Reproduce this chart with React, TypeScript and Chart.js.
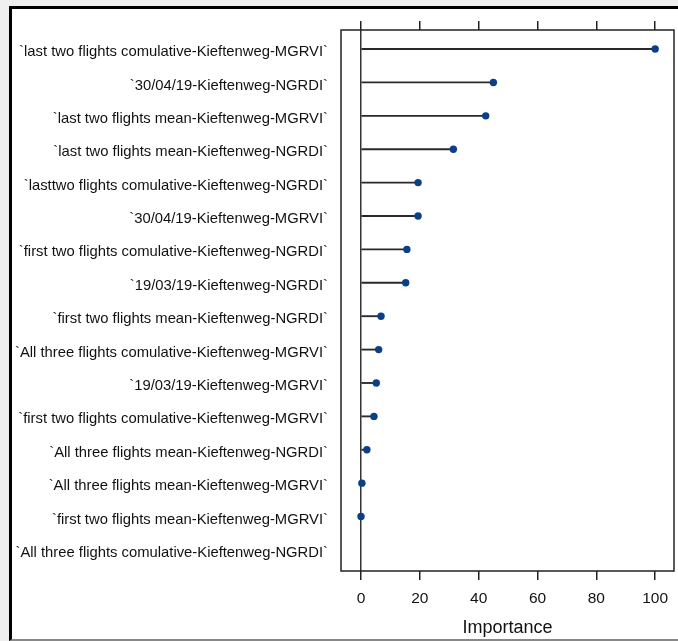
import React, { useEffect, useRef } from "react";
import { Chart, registerables } from "chart.js";

Chart.register(...registerables);

// Predictor names, top to bottom
const categories = [
  "`last two flights comulative-Kieftenweg-MGRVI`",
  "`30/04/19-Kieftenweg-NGRDI`",
  "`last two flights mean-Kieftenweg-MGRVI`",
  "`last two flights mean-Kieftenweg-NGRDI`",
  "`lasttwo flights comulative-Kieftenweg-NGRDI`",
  "`30/04/19-Kieftenweg-MGRVI`",
  "`first two flights comulative-Kieftenweg-NGRDI`",
  "`19/03/19-Kieftenweg-NGRDI`",
  "`first two flights mean-Kieftenweg-NGRDI`",
  "`All three flights comulative-Kieftenweg-MGRVI`",
  "`19/03/19-Kieftenweg-MGRVI`",
  "`first two flights comulative-Kieftenweg-MGRVI`",
  "`All three flights mean-Kieftenweg-NGRDI`",
  "`All three flights mean-Kieftenweg-MGRVI`",
  "`first two flights mean-Kieftenweg-MGRVI`",
  "`All three flights comulative-Kieftenweg-NGRDI`",
];

// Variable importance (scaled 0-100)
const importance: (number | null)[] = [
  100, 45.0, 42.4, 31.4, 19.4, 19.4, 15.6, 15.2, 6.8, 6.0, 5.2, 4.4, 2.0, 0.3, 0, null,
];

const xTicks = [0, 20, 40, 60, 80, 100];
const xTitle = "Importance";

const FONT = "'Liberation Sans', Arial, Helvetica, sans-serif";
const X_MIN = -6.8;
const X_MAX = 106.4;

const panelBox = {
  id: "panelBox",
  afterDatasetsDraw(chart: any) {
    const { ctx, chartArea } = chart;
    ctx.save();
    ctx.strokeStyle = "#222";
    ctx.lineWidth = 1.5;
    ctx.strokeRect(chartArea.left, chartArea.top, chartArea.right - chartArea.left, chartArea.bottom - chartArea.top);
    ctx.restore();
  },
};

export default function App() {
  const canvasRef = useRef<HTMLCanvasElement | null>(null);

  useEffect(() => {
    const canvas = canvasRef.current;
    if (!canvas) return;

    const points = importance
      .map((v, i) => (v === null ? null : { x: v, y: i }))
      .filter((p) => p !== null) as { x: number; y: number }[];

    const setXTicks = (scale: any) => {
      scale.ticks = xTicks.map((v) => ({ value: v }));
    };

    const chart = new Chart(canvas, {
      type: "bar",
      data: {
        datasets: [
          {
            type: "scatter" as any,
            data: points,
            xAxisID: "x",
            yAxisID: "y",
            showLine: false,
            pointStyle: "circle",
            pointRadius: 3.7,
            pointBackgroundColor: "#0b3f88",
            pointBorderColor: "#0b3f88",
            pointBorderWidth: 0,
            order: 0,
          } as any,
          {
            type: "bar",
            data: points,
            xAxisID: "x",
            yAxisID: "y",
            backgroundColor: "#2a2a2a",
            barThickness: 1.2,
            order: 1,
          } as any,
        ],
      },
      options: {
        animation: false,
        responsive: false,
        indexAxis: "y",
        layout: { padding: { left: 0, right: 2, top: 0, bottom: 0 } },
        plugins: {
          legend: { display: false },
          tooltip: { enabled: false },
        },
        scales: {
          x: {
            type: "linear",
            position: "bottom",
            min: X_MIN,
            max: X_MAX,
            offset: false,
            afterBuildTicks: setXTicks,
            afterFit: (scale: any) => {
              scale.height = 70;
            },
            border: { display: false },
            grid: {
              drawOnChartArea: true,
              drawTicks: true,
              tickLength: 9,
              lineWidth: 1.5,
              tickColor: "#222",
              color: (c: any) => (c.tick && c.tick.value === 0 ? "#333" : "rgba(0,0,0,0)"),
            },
            ticks: {
              color: "#111",
              padding: 9,
              font: { family: FONT, size: 15.5 },
              maxRotation: 0,
              callback: (v: any) => String(v),
            },
            title: {
              display: true,
              text: xTitle,
              color: "#111",
              font: { family: FONT, size: 18 },
              padding: { top: 0, bottom: 2 },
            },
          },
          xTop: {
            type: "linear",
            position: "top",
            min: X_MIN,
            max: X_MAX,
            offset: false,
            afterBuildTicks: setXTicks,
            afterFit: (scale: any) => {
              scale.height = 30;
            },
            border: { display: false },
            grid: {
              drawOnChartArea: false,
              drawTicks: true,
              tickLength: 9,
              lineWidth: 1.5,
              tickColor: "#222",
              color: "#222",
            },
            ticks: { display: false },
          },
          y: {
            type: "linear",
            reverse: true,
            offset: false,
            min: -0.57,
            max: 15.63,
            afterBuildTicks: (scale: any) => {
              scale.ticks = categories.map((_, i) => ({ value: i }));
            },
            afterFit: (scale: any) => {
              scale.width = 341;
            },
            border: { display: false },
            grid: { display: false, drawTicks: false, offset: false },
            ticks: {
              color: "#111",
              padding: 13,
              labelOffset: 3,
              font: { family: FONT, size: 14.8 },
              autoSkip: false,
              callback: (v: any) => categories[v as number] ?? "",
            },
          },
        },
      },
      plugins: [panelBox],
    });

    return () => chart.destroy();
  }, []);

  return (
    <div
      style={{
        position: "absolute",
        left: 0,
        top: 0,
        width: 678,
        height: 641,
        background: "#efefef",
        overflow: "hidden",
      }}
    >
      <div
        style={{
          position: "absolute",
          left: 9,
          top: 6,
          width: 669,
          height: 635,
          boxSizing: "border-box",
          background: "#ffffff",
          borderLeft: "3px solid #000",
          borderTop: "3px solid #000",
          borderBottom: "2px solid #888",
        }}
      />
      <canvas
        ref={canvasRef}
        width={678}
        height={641}
        style={{ position: "absolute", left: 0, top: 0, width: 678, height: 641 }}
      />
    </div>
  );
}
